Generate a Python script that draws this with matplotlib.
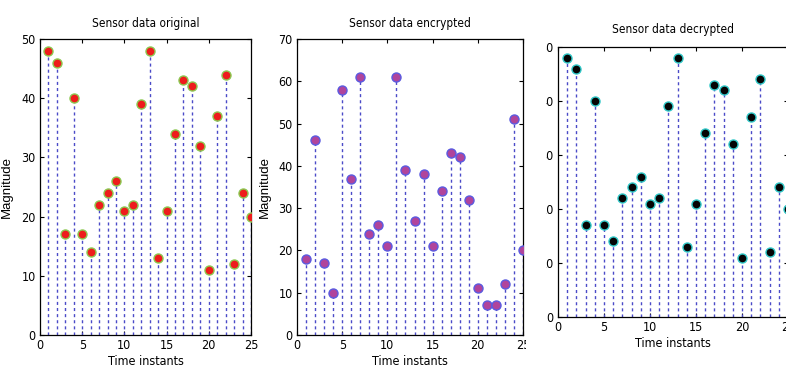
import matplotlib
matplotlib.use("Agg")
import matplotlib.pyplot as plt
from matplotlib.patches import Rectangle

# Sensor readings over 25 time instants
time_instants = list(range(1, 26))
original = [48, 46, 17, 40, 17, 14, 22, 24, 26, 21, 22, 39, 48, 13, 21,
            34, 43, 42, 32, 11, 37, 44, 12, 24, 20]
encrypted = [18, 46, 17, 10, 58, 37, 61, 24, 26, 21, 61, 39, 27, 38, 21,
             34, 43, 42, 32, 11, 7, 7, 12, 51, 20]
decrypted = [48, 46, 17, 40, 17, 14, 22, 24, 26, 21, 22, 39, 48, 13, 21,
             34, 43, 42, 32, 11, 37, 44, 12, 24, 20]

titles = ["Sensor data original", "Sensor data encrypted", "Sensor data decrypted"]
x_ticks = [0, 5, 10, 15, 20, 25]
y_ticks_plain = [0, 10, 20, 30, 40, 50]
y_ticks_enc = [0, 10, 20, 30, 40, 50, 60, 70]

NARROW = dict(family=["DejaVu Sans"], stretch="condensed")
W, H = 786, 379

fig = plt.figure(figsize=(W / 100, H / 100), dpi=100)


def px_axes(left, top, right, bottom):
    return fig.add_axes([left / W, 1 - bottom / H, (right - left) / W, (bottom - top) / H])


def stem_panel(ax, values, face, edge, ylim, yticks, title, title_pad, ylabel=True):
    markerline, stemlines, baseline = ax.stem(time_instants, values)
    stemlines.set_color("#4b4bc8")
    stemlines.set_linestyle((0, (2.2, 2.2)))
    stemlines.set_linewidth(1.0)
    baseline.set_visible(False)
    markerline.set_marker("o")
    markerline.set_markersize(6.5)
    markerline.set_markerfacecolor(face)
    markerline.set_markeredgecolor(edge)
    markerline.set_markeredgewidth(1.0)
    markerline.set_zorder(3)
    ax.set_xlim(0, 25)
    ax.set_ylim(*ylim)
    ax.set_xticks(x_ticks)
    ax.set_yticks(yticks)
    ax.tick_params(direction="in", top=True, right=True, length=3, width=0.8, pad=3)
    for lab in ax.get_xticklabels() + ax.get_yticklabels():
        lab.set_fontproperties(dict(size=9, **NARROW))
    for s in ax.spines.values():
        s.set_linewidth(0.9)
    ax.set_title(title, fontsize=8.5, pad=title_pad, **NARROW)
    ax.set_xlabel("Time instants", fontsize=9, labelpad=2, **NARROW)
    if ylabel:
        ax.set_ylabel("Magnitude", family=["Liberation Sans", "DejaVu Sans"], fontsize=9.5)


ax1 = px_axes(40, 39, 251, 335)
stem_panel(ax1, original, "#ee1c1c", "#8cc850", (0, 50), y_ticks_plain, titles[0], 9)

ax2 = px_axes(297, 39, 523, 335)
stem_panel(ax2, encrypted, "#b0449c", "#5a5ae0", (0, 70), y_ticks_enc, titles[1], 9)

ax3 = px_axes(558, 47, 788, 317)
stem_panel(ax3, decrypted, "#050505", "#30c8c8", (0, 50), y_ticks_plain, titles[2], 10,
           ylabel=False)
ax3.spines["right"].set_visible(False)

ax1.yaxis.set_label_coords(-27 / 211, 0.5)
ax2.yaxis.set_label_coords(-26 / 226, 0.5)

# The decrypted panel's y labels are cut off at its left edge
fig.patches.append(Rectangle((526 / W, 0.05), (546 - 526) / W, 0.9,
                             transform=fig.transFigure, facecolor="white",
                             edgecolor="none", zorder=10))

fig.savefig("out.png", dpi=100)
